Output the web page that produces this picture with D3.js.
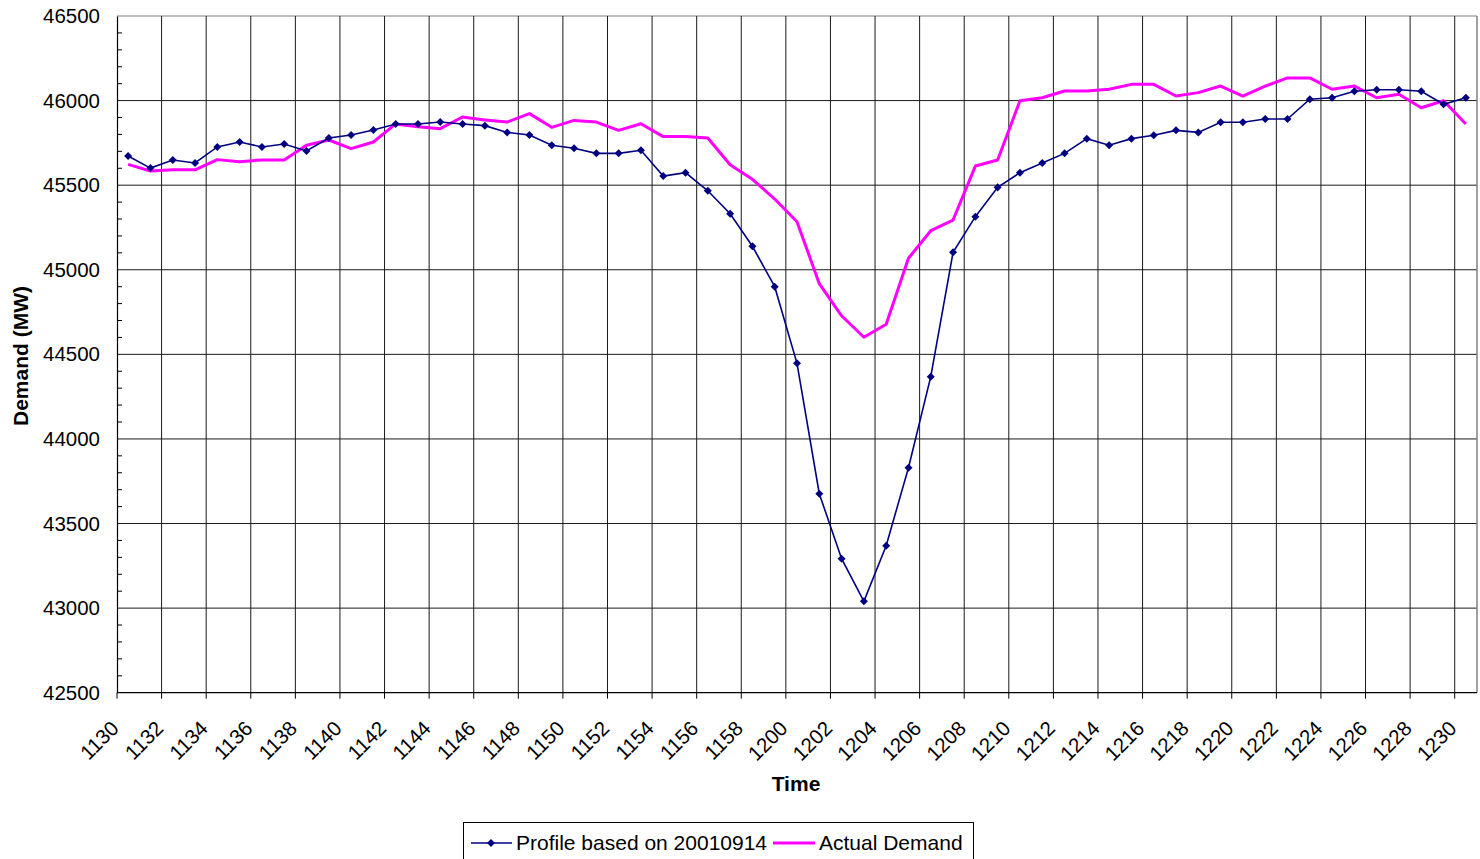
<!DOCTYPE html>
<html>
<head>
<meta charset="utf-8">
<script src="https://cdn.jsdelivr.net/npm/d3@7"></script>
<style>
  body { margin: 0; background: #fff; }
  svg { display: block; font-family: "Liberation Sans", Arial, sans-serif; }
</style>
</head>
<body>
<script>
// time categories, one per minute, 1130 .. 1230
const times = ['1130','1131','1132','1133','1134','1135','1136','1137','1138','1139',
  '1140','1141','1142','1143','1144','1145','1146','1147','1148','1149',
  '1150','1151','1152','1153','1154','1155','1156','1157','1158','1159',
  '1200','1201','1202','1203','1204','1205','1206','1207','1208','1209',
  '1210','1211','1212','1213','1214','1215','1216','1217','1218','1219',
  '1220','1221','1222','1223','1224','1225','1226','1227','1228','1229','1230'];

// Profile based on 20010914 (MW)
const profile = [45672, 45601, 45649, 45631, 45726, 45755, 45726, 45743, 45702, 45779,
  45797, 45826, 45862, 45862, 45873, 45862, 45852, 45812, 45797, 45736,
  45718, 45688, 45688, 45706, 45554, 45574, 45467, 45331, 45139, 44900,
  44447, 43676, 43292, 43040, 43369, 43830, 44368, 45103, 45314, 45487,
  45574, 45631, 45688, 45775, 45736, 45775, 45795, 45824, 45812, 45872,
  45872, 45891, 45891, 46008, 46017, 46055, 46064, 46064, 46055, 45978, 46017];

// Actual Demand (MW)
const actual = [45623, 45584, 45591, 45591, 45651, 45639, 45649, 45649, 45736, 45767,
  45716, 45755, 45862, 45846, 45834, 45903, 45885, 45873, 45923, 45842,
  45883, 45873, 45824, 45863, 45787, 45787, 45779, 45621, 45535, 45418,
  45284, 44918, 44728, 44601, 44678, 45068, 45231, 45294, 45613, 45649,
  45999, 46017, 46057, 46057, 46067, 46096, 46096, 46027, 46047, 46086,
  46027, 46086, 46134, 46134, 46067, 46086, 46017, 46037, 45958, 45999, 45862];

const yTicks = [42500, 43000, 43500, 44000, 44500, 45000, 45500, 46000, 46500];
const seriesNames = ['Profile based on 20010914', 'Actual Demand'];

let width = 1480, height = 859,
    plot = { left: 117, right: 1477, top: 16, bottom: 692.7 },
    svg = d3.select('body').append('svg')
      .attr('width', width)
      .attr('height', height);

var xScale = d3.scaleBand()
  .domain(times)
  .range([plot.left, plot.right])
  .padding(0);

var yScale = d3.scaleLinear()
  .domain([42500, 46500])
  .range([plot.bottom, plot.top]);

var xMid = d => xScale(d) + xScale.bandwidth() / 2;

// labelled ticks every 2 minutes, on the category boundaries
var tickTimes = times.filter((t, i) => i % 2 === 0);

// horizontal gridlines
svg.append('g')
  .selectAll('line')
  .data(yTicks.slice(1))
  .enter().append('line')
  .attr('x1', plot.left).attr('x2', plot.right)
  .attr('y1', d => yScale(d)).attr('y2', d => yScale(d))
  .attr('stroke', d => d === 46500 ? '#808080' : '#1a1a1a')
  .attr('stroke-width', 1);

// vertical gridlines
svg.append('g')
  .selectAll('line')
  .data(tickTimes.slice(1))
  .enter().append('line')
  .attr('x1', d => xScale(d)).attr('x2', d => xScale(d))
  .attr('y1', plot.top).attr('y2', plot.bottom)
  .attr('stroke', '#1a1a1a')
  .attr('stroke-width', 1);

// right border
svg.append('line')
  .attr('x1', plot.right).attr('x2', plot.right)
  .attr('y1', plot.top).attr('y2', plot.bottom)
  .attr('stroke', '#808080').attr('stroke-width', 1.5);

// minor y ticks, inside the plot
svg.append('g')
  .selectAll('line')
  .data(d3.range(42600, 46500, 100).filter(v => v % 500 !== 0))
  .enter().append('line')
  .attr('x1', plot.left).attr('x2', plot.left + 5)
  .attr('y1', d => yScale(d)).attr('y2', d => yScale(d))
  .attr('stroke', '#000');

// y axis
var yAxis = d3.axisLeft(yScale).tickValues(yTicks).tickFormat(d3.format('d')).tickSize(0).tickPadding(17);
svg.append('g')
  .attr('transform', 'translate(' + plot.left + ',0)')
  .call(yAxis)
  .call(g => g.select('.domain').attr('stroke', '#000').attr('stroke-width', 1.2))
  .call(g => g.selectAll('.tick text')
    .attr('font-size', 20.5)
    .attr('font-family', '"Liberation Sans", Arial, sans-serif')
    .attr('fill', '#000'));

// x axis line + ticks
svg.append('line')
  .attr('x1', plot.left).attr('x2', plot.right)
  .attr('y1', plot.bottom).attr('y2', plot.bottom)
  .attr('stroke', '#000').attr('stroke-width', 1.2);

svg.append('g')
  .selectAll('line')
  .data(tickTimes)
  .enter().append('line')
  .attr('x1', d => xScale(d)).attr('x2', d => xScale(d))
  .attr('y1', plot.bottom).attr('y2', plot.bottom + 6)
  .attr('stroke', '#000');

// rotated time labels, end of text at the tick
svg.append('g')
  .selectAll('text')
  .data(tickTimes)
  .enter().append('text')
  .attr('transform', d => 'translate(' + (xScale(d) + 3) + ',' + (plot.bottom + 37) + ') rotate(-45)')
  .attr('text-anchor', 'end')
  .attr('font-size', 20.5)
  .attr('fill', '#000')
  .text(d => d);

// axis titles
svg.append('text')
  .attr('x', 796).attr('y', 791)
  .attr('text-anchor', 'middle')
  .attr('font-size', 21).attr('font-weight', 'bold')
  .text('Time');

svg.append('text')
  .attr('transform', 'translate(28,356) rotate(-90)')
  .attr('text-anchor', 'middle')
  .attr('font-size', 21).attr('font-weight', 'bold')
  .text('Demand (MW)');

// lines
var line = d3.line()
  .x((d, i) => xMid(times[i]))
  .y(d => yScale(d));

svg.append('path')
  .datum(actual)
  .attr('d', line)
  .attr('fill', 'none')
  .attr('stroke', '#ff00ff')
  .attr('stroke-width', 3)
  .attr('stroke-linejoin', 'round');

svg.append('path')
  .datum(profile)
  .attr('d', line)
  .attr('fill', 'none')
  .attr('stroke', '#000080')
  .attr('stroke-width', 1.6);

// square diamond markers, like Excel's
var diamond = d3.symbol().type(d3.symbolSquare).size(32);

svg.append('g')
  .selectAll('path')
  .data(profile)
  .enter().append('path')
  .attr('d', diamond)
  .attr('transform', (d, i) => 'translate(' + xMid(times[i]) + ',' + yScale(d) + ') rotate(45)')
  .attr('fill', '#000080');

// legend
var legend = svg.append('g');
legend.append('rect')
  .attr('x', 463.5).attr('y', 822.5)
  .attr('width', 510).attr('height', 60)
  .attr('fill', '#fff')
  .attr('stroke', '#000').attr('stroke-width', 1);

legend.append('line')
  .attr('x1', 471).attr('x2', 512).attr('y1', 843).attr('y2', 843)
  .attr('stroke', '#000080').attr('stroke-width', 1.6);
legend.append('path')
  .attr('d', diamond)
  .attr('transform', 'translate(491,843) rotate(45)')
  .attr('fill', '#000080');
legend.append('text')
  .attr('x', 516).attr('y', 850)
  .attr('font-size', 21)
  .text(seriesNames[0]);

legend.append('line')
  .attr('x1', 773).attr('x2', 815).attr('y1', 843).attr('y2', 843)
  .attr('stroke', '#ff00ff').attr('stroke-width', 3);
legend.append('text')
  .attr('x', 819).attr('y', 850)
  .attr('font-size', 21)
  .text(seriesNames[1]);
</script>
</body>
</html>
